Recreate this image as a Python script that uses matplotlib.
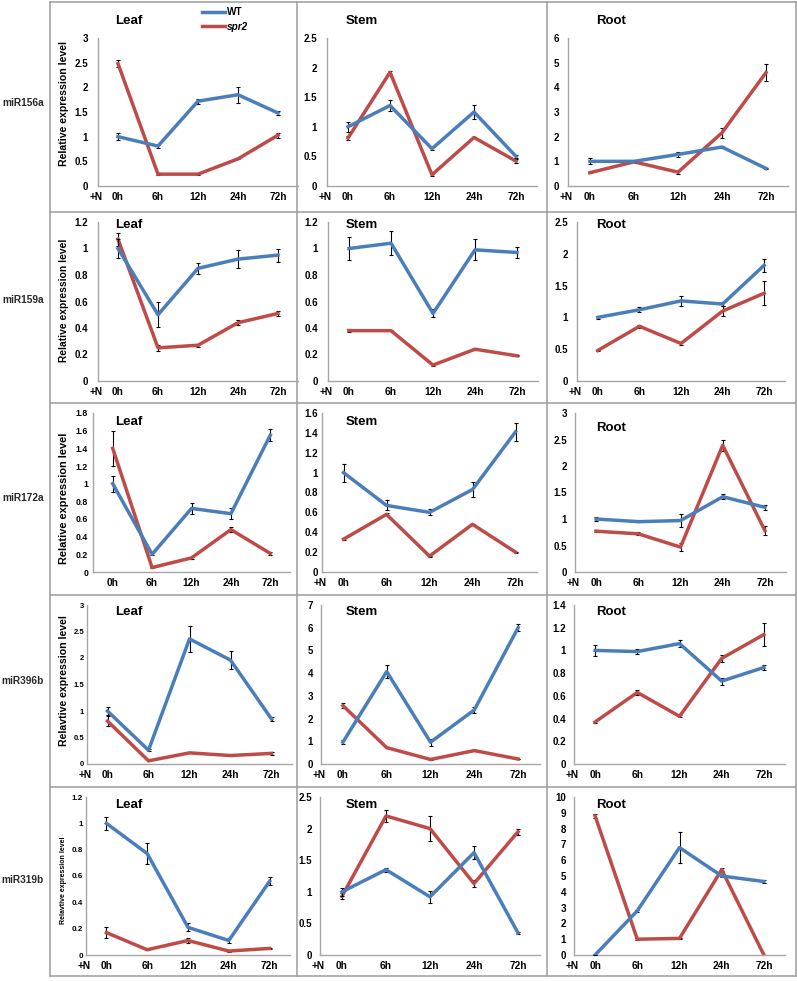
import matplotlib
matplotlib.use('Agg')
import matplotlib.pyplot as plt
from matplotlib.lines import Line2D
from matplotlib.ticker import MultipleLocator, FormatStrFormatter
import numpy as np

plt.rcParams['font.family'] = ['Liberation Sans', 'DejaVu Sans']
plt.rcParams['font.weight'] = 'bold'

# time points and panels
timeLabels = ['0h', '6h', '12h', '24h', '72h']
tissues = ['Leaf', 'Stem', 'Root']
mirnas = ['miR156a', 'miR159a', 'miR172a', 'miR396b', 'miR319b']

# values per miRNA: rows are Leaf, Stem, Root
wt156 = [[1.0, 0.81, 1.72, 1.85, 1.48],
         [1.0, 1.36, 0.63, 1.25, 0.50],
         [1.0, 1.0, 1.28, 1.58, 0.71]]
wt156_err = [[0.07, 0.03, 0.05, 0.16, 0.05],
             [0.08, 0.09, 0.03, 0.12, 0.03],
             [0.12, 0.02, 0.10, 0.05, 0.03]]
spr156 = [[2.48, 0.24, 0.24, 0.55, 1.03],
          [0.81, 1.92, 0.19, 0.82, 0.42],
          [0.54, 0.98, 0.56, 2.16, 4.6]]
spr156_err = [[0.07, 0.02, 0.02, 0.01, 0.05],
              [0.04, 0.03, 0.02, 0.01, 0.03],
              [0.02, 0.02, 0.06, 0.2, 0.33]]

wt159 = [[1.0, 0.50, 0.85, 0.92, 0.95],
         [1.0, 1.04, 0.51, 0.99, 0.97],
         [1.0, 1.12, 1.26, 1.21, 1.82]]
wt159_err = [[0.07, 0.095, 0.04, 0.07, 0.05],
             [0.09, 0.09, 0.03, 0.08, 0.04],
             [0.02, 0.04, 0.08, 0.03, 0.1]]
spr159 = [[1.07, 0.25, 0.27, 0.44, 0.51],
          [0.38, 0.38, 0.12, 0.24, 0.19],
          [0.48, 0.86, 0.59, 1.1, 1.38]]
spr159_err = [[0.05, 0.02, 0.01, 0.02, 0.02],
              [0.01, 0.005, 0.005, 0.005, 0.005],
              [0.01, 0.02, 0.03, 0.08, 0.19]]

wt172 = [[1.0, 0.2, 0.72, 0.66, 1.55],
         [1.0, 0.67, 0.6, 0.83, 1.41],
         [1.0, 0.95, 0.97, 1.42, 1.22]]
wt172_err = [[0.09, 0.01, 0.06, 0.06, 0.07],
             [0.09, 0.05, 0.03, 0.08, 0.09],
             [0.03, 0.01, 0.12, 0.05, 0.05]]
spr172 = [[1.4, 0.05, 0.16, 0.48, 0.21],
          [0.33, 0.58, 0.16, 0.48, 0.2],
          [0.77, 0.72, 0.47, 2.39, 0.78]]
spr172_err = [[0.2, 0.01, 0.01, 0.03, 0.02],
              [0.01, 0.01, 0.005, 0.005, 0.005],
              [0.02, 0.03, 0.07, 0.1, 0.08]]

wt396 = [[1.0, 0.26, 2.36, 1.96, 0.85],
         [0.96, 4.07, 0.96, 2.38, 6.0],
         [1.0, 0.99, 1.06, 0.73, 0.85]]
wt396_err = [[0.08, 0.02, 0.24, 0.17, 0.03],
             [0.1, 0.3, 0.15, 0.15, 0.15],
             [0.05, 0.02, 0.03, 0.03, 0.02]]
spr396 = [[0.81, 0.06, 0.21, 0.16, 0.2],
          [2.57, 0.72, 0.2, 0.59, 0.22],
          [0.37, 0.63, 0.42, 0.93, 1.14]]
spr396_err = [[0.1, 0.01, 0.01, 0.01, 0.03],
              [0.1, 0.02, 0.01, 0.01, 0.01],
              [0.01, 0.02, 0.01, 0.03, 0.1]]

wt319 = [[1.0, 0.77, 0.21, 0.11, 0.56],
         [1.0, 1.35, 0.92, 1.62, 0.35],
         [0.0, 2.8, 6.8, 5.0, 4.65]]
wt319_err = [[0.05, 0.08, 0.03, 0.02, 0.03],
             [0.06, 0.03, 0.1, 0.1, 0.01],
             [0.0, 0.05, 1.0, 0.05, 0.1]]
spr319 = [[0.17, 0.04, 0.11, 0.03, 0.05],
          [0.93, 2.2, 2.0, 1.13, 1.95],
          [8.8, 1.0, 1.05, 5.4, 0.0]]
spr319_err = [[0.04, 0.005, 0.02, 0.005, 0.005],
              [0.05, 0.1, 0.2, 0.05, 0.05],
              [0.1, 0.05, 0.05, 0.1, 0.0]]

wtAll = [wt156, wt159, wt172, wt396, wt319]
wtErrAll = [wt156_err, wt159_err, wt172_err, wt396_err, wt319_err]
sprAll = [spr156, spr159, spr172, spr396, spr319]
sprErrAll = [spr156_err, spr159_err, spr172_err, spr396_err, spr319_err]

# y axis max and step per panel
yMax = [[3, 2.5, 6], [1.2, 1.2, 2.5], [1.8, 1.6, 3], [3, 7, 1.4], [1.2, 2.5, 10]]
yStep = [[0.5, 0.5, 1], [0.2, 0.2, 0.5], [0.2, 0.2, 0.5], [0.5, 1, 0.2], [0.2, 0.5, 1]]
yLabels = ['Relative expression level', 'Relative expression level', 'Relative expression level',
           'Relavtive expression level', 'Relavtive expression level']

# layout in pixels
W, H = 797, 981
rowY = [(38, 186), (222, 381), (413, 572), (605, 764), (797, 955)]
panelX = [[(98, 298), (327, 537), (568, 788)],
          [(98, 298), (328, 538), (577, 785)],
          [(93, 290), (322, 537), (575, 786)],
          [(87, 292), (321, 540), (574, 785)],
          [(86, 290), (320, 540), (574, 785)]]
tickPad = [[10, 10, 9], [10, 10, 9], [5, 4, 8], [3, 8, 8], [3, 8, 8]]
tickSize = [[7, 7, 7], [7, 7, 7], [6.3, 7, 7], [5.5, 7, 7], [5.8, 7, 7]]
ylabSize = [7.6, 7.4, 7.9, 7.6, 5.0]
titleY = [21, 225, 422, 612, 805]
rowMid = [103, 300, 498, 681, 880]
titleX = [115, 346, 596]
gridY = [2, 212, 403, 595, 787, 976]
gridX = [50, 297, 547, 796]

blue = '#4A7EBB'
red = '#BE4B48'
gray = '#A6A6A6'

fig = plt.figure(figsize=[W / 100, H / 100], dpi=100)

# background axes in pixel coordinates for the frame and labels
bg = fig.add_axes([0, 0, 1, 1])
bg.set_xlim(0, W)
bg.set_ylim(H, 0)
bg.axis('off')
for y in gridY:
    bg.plot([gridX[0], gridX[-1]], [y, y], color='#9C9C9C', lw=1.1)
for x in gridX:
    bg.plot([x, x], [gridY[0], gridY[-1]], color='#9C9C9C', lw=1.1)

index = np.arange(len(timeLabels))
legendAx = None
for r in range(5):
    top, bottom = rowY[r]
    bg.text(23, rowMid[r], mirnas[r], ha='center', va='center', fontsize=7.3,
            fontweight='bold', color='#2a2a2a')
    bg.text(64, rowMid[r], yLabels[r], ha='center', va='center', rotation=90,
            fontsize=ylabSize[r], fontweight='bold')
    for c in range(3):
        left, right = panelX[r][c]
        ax = fig.add_axes([left / W, 1 - bottom / H, (right - left) / W, (bottom - top) / H])
        ax.patch.set_alpha(0)
        ax.errorbar(index, wtAll[r][c], yerr=wtErrAll[r][c], color=blue, lw=2.5,
                    ecolor='black', elinewidth=0.8, capsize=1.6, capthick=0.8,
                    label='WT', zorder=3)
        ax.errorbar(index, sprAll[r][c], yerr=sprErrAll[r][c], color=red, lw=2.5,
                    ecolor='black', elinewidth=0.8, capsize=1.6, capthick=0.8,
                    label='spr2', zorder=2)
        ax.set_xlim(-0.5, 4.5)
        ax.set_ylim(0, yMax[r][c])
        ax.yaxis.set_major_locator(MultipleLocator(yStep[r][c]))
        ax.yaxis.set_major_formatter(FormatStrFormatter('%g'))
        ax.set_xticks(index)
        ax.set_xticklabels(timeLabels)
        ax.tick_params(length=0, colors='black')
        ax.tick_params(axis='y', pad=tickPad[r][c] * 0.72, labelsize=tickSize[r][c])
        ax.tick_params(axis='x', pad=4.5, labelsize=7.3)
        for lab in ax.get_xticklabels() + ax.get_yticklabels():
            lab.set_fontweight('bold')
        ax.spines['top'].set_visible(False)
        ax.spines['right'].set_visible(False)
        ax.spines['left'].set_color(gray)
        ax.spines['bottom'].set_color(gray)
        ax.spines['left'].set_linewidth(1)
        ax.spines['bottom'].set_linewidth(1)
        if not (r == 2 and c == 0):
            ax.annotate('+N', xy=(-0.55, 0), xycoords=('data', 'axes fraction'),
                        xytext=(0, -4.5), textcoords='offset points', ha='center', va='top',
                        fontsize=7.3, fontweight='bold', annotation_clip=False)
        ty = titleY[r] + (6 if (r == 2 and c == 2) else 0)
        bg.text(titleX[c], ty, tissues[c], ha='left', va='center', fontsize=9.5,
                fontweight='bold')
        if r == 0 and c == 0:
            legendAx = ax

handles = [Line2D([0], [0], color=blue, lw=2.5), Line2D([0], [0], color=red, lw=2.5)]
leg = legendAx.legend(handles, ['WT', 'spr2'], loc='upper left',
                      bbox_to_anchor=(202 / W, 1 - 7 / H), bbox_transform=fig.transFigure,
                      frameon=False, fontsize=7.2, handlelength=2.3, handletextpad=0.15,
                      labelspacing=0.45, borderpad=0, borderaxespad=0)
for t in leg.get_texts():
    t.set_fontweight('bold')
leg.get_texts()[1].set_fontstyle('italic')

plt.savefig('out.png', dpi=100)
